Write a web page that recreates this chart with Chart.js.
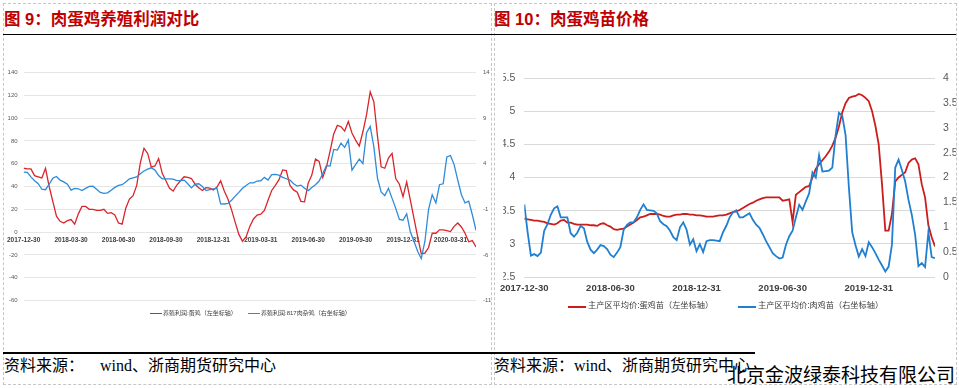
<!DOCTYPE html>
<html>
<head>
<meta charset="utf-8">
<script src="https://cdn.jsdelivr.net/npm/chart.js@4.4.1/dist/chart.umd.min.js"></script>
<style>
    body { margin: 0; width: 959px; height: 388px; background: #fff; position: relative; overflow: hidden;
           font-family: "Liberation Sans", "Noto Sans CJK SC", sans-serif; }
    .box { position: absolute; border: 1px dashed #c6c6c6; }
    .title { position: absolute; top: 11px; font-size: 16.5px; line-height: 1; font-weight: bold; color: #c00000; white-space: nowrap; }
    .rule { position: absolute; background: #000; }
    .src { position: absolute; top: 358px; font-size: 16px; line-height: 1; white-space: pre; color: #000;
           font-family: "Liberation Serif", "Noto Sans CJK SC", serif; }
    .lg { position: absolute; white-space: nowrap; color: #404040; line-height: 1; }
    .mark { position: absolute; }
    canvas { position: absolute; }
    #wm { position: absolute; left: 727px; top: 364px; font-size: 19px; line-height: 1; color: #000;
          font-family: "Noto Sans CJK SC", sans-serif; white-space: nowrap; }
</style>
</head>
<body>
<div class="box" style="left:3px;top:3px;width:487px;height:380px"></div>
<div class="box" style="left:494px;top:3px;width:461px;height:380px"></div>

<div class="title" style="left:4px">图 9：肉蛋鸡养殖利润对比</div>
<div class="title" style="left:494px">图 10：肉蛋鸡苗价格</div>
<div class="rule" style="left:3px;top:33.5px;width:953px;height:1.5px"></div>

<canvas id="profitChart" width="488" height="290" style="left:3px;top:40px"></canvas>
<canvas id="chickChart" width="462" height="270" style="left:494px;top:40px"></canvas>

<div class="mark" style="left:150px;top:312.5px;width:12px;height:1.3px;background:#d8262c"></div>
<div class="lg" style="left:163px;top:310px;font-size:6px">养殖利润:蛋鸡（左坐标轴）</div>
<div class="mark" style="left:248px;top:312.5px;width:12px;height:1.3px;background:#2d8bd9"></div>
<div class="lg" style="left:261px;top:310px;font-size:6px">养殖利润:817肉杂鸡（右坐标轴）</div>

<div class="mark" style="left:568px;top:305.5px;width:18px;height:2px;background:#cc1c1c"></div>
<div class="lg" style="left:588px;top:302px;font-size:8.2px">主产区平均价:蛋鸡苗（左坐标轴）</div>
<div class="mark" style="left:738px;top:305.5px;width:18px;height:2px;background:#1f7fd0"></div>
<div class="lg" style="left:758px;top:302px;font-size:8.2px">主产区平均价:肉鸡苗（右坐标轴）</div>

<div class="rule" style="left:3px;top:352px;width:752px;height:1.5px"></div>
<div class="src" style="left:4px">资料来源：    wind、浙商期货研究中心</div>
<div class="src" style="left:494px">资料来源：wind、浙商期货研究中心</div>
<div id="wm">北京金波绿泰科技有限公司</div>

<script>
// weekly values, 2017-12-30 onward
const eggProfit = [
    56, 55.5, 55.5, 49.5, 48.5, 47.5, 56, 40, 27, 14,
    9.5, 8, 10, 11, 7, 16, 22.5, 22.5, 20, 20,
    19, 19, 20, 16.4, 17, 15, 8, 7, 21, 29,
    32, 41, 61, 73.5, 69, 57, 58, 64.5, 51.5, 45,
    38.5, 36, 41.3, 45, 48.5, 48, 47, 42, 39, 36.5,
    39, 38.6, 37, 39.5, 45, 36, 29, 19.5, 8.5, -2,
    -8, -4, 5, 11.5, 15, 15.7, 19, 28, 36.5, 41,
    46, 54.5, 54, 41, 37, 35, 27, 26.6, 43, 50,
    64, 62, 48, 57, 71, 86, 93.6, 92.4, 88.6, 97,
    87, 80.7, 75.5, 88, 103, 123, 114.3, 84, 57.3, 56,
    65, 69, 47, 42, 31, 44, 28, 12, -4, -19,
    -18.5, -13.5, -1, -1, 2, 2, 1.3, 0.5, 5, 8,
    4.5, -1, -8.5, -7.5, -13
];
const broilerProfit = [
    3.08, 3.05, 2.56, 2.13, 1.8, 1.2, 1.15, 1.75, 2.4, 2.6,
    2.2, 2.0, 1.75, 1.1, 1.3, 1.25, 1.05, 1.3, 1.5, 1.54,
    1.2, 0.85, 0.74, 0.8, 1.1, 1.4, 1.63, 1.7, 2.0, 2.34,
    2.45, 2.55, 2.9, 3.2, 3.4, 3.55, 3.3, 2.7, 2.34, 2.34,
    2.34, 2.3, 2.15, 2.15, 2.2, 1.8, 1.35, 1.75, 1.8, 1.5,
    1.05, 1.15, 1.25, 1.29, -0.4, -0.42, -0.35, 0.0, 0.45, 0.85,
    1.3, 1.6, 1.9, 1.9, 2.1, 2.13, 2.5, 2.2, 2.8, 2.83,
    2.75, 2.5, 2.35, 2.2, 1.8, 1.55, 1.65, 1.3, 1.05, 1.4,
    1.7, 2.1, 2.9, 3.8, 3.74, 5.56, 5.49, 6.25, 5.79, 6.6,
    3.3, 3.9, 4.5, 4.0, 7.39, 8.1, 5.85, 2.4, 0.91, 0.5,
    1.3, 0.2, -0.9, -2.1, -2.2, -1.5, -3.46, -4.5, -5.6, -6.4,
    -4.5, -1, 0.6, -0.3, 1.7, 1.8, 4.75, 4.9, 3.9, 2.2,
    0.6, -0.3, -0.1, -1.6, -3.3
];
const profitTickIdx = [0, 13, 26, 39, 52, 65, 78, 91, 104, 117];
const profitTickLabels = ['2017-12-30', '2018-03-30', '2018-06-30', '2018-09-30', '2018-12-31',
                          '2019-03-31', '2019-06-30', '2019-09-30', '2019-12-31', '2020-03-31'];

const eggChick = [
    3.38, 3.37, 3.36, 3.35, 3.35, 3.34, 3.33, 3.31, 3.3, 3.29,
    3.31, 3.35, 3.36, 3.32, 3.32, 3.3, 3.29, 3.29, 3.29, 3.29,
    3.28, 3.28, 3.27, 3.3, 3.31, 3.28, 3.26, 3.22, 3.21, 3.22,
    3.23, 3.26, 3.29, 3.32, 3.36, 3.4, 3.41, 3.43, 3.45, 3.45,
    3.45, 3.44, 3.42, 3.41, 3.41, 3.43, 3.44, 3.44, 3.45, 3.45,
    3.44, 3.44, 3.43, 3.43, 3.42, 3.41, 3.41, 3.41, 3.42, 3.43,
    3.43, 3.44, 3.46, 3.48, 3.49, 3.51, 3.54, 3.57, 3.6, 3.62,
    3.65, 3.67, 3.69, 3.7, 3.7, 3.7, 3.7, 3.7, 3.65, 3.66,
    3.67, 3.33, 3.74, 3.78, 3.82, 3.86, 3.87, 4.0, 4.13, 4.2,
    4.26, 4.32, 4.39, 4.48, 4.6, 4.77, 4.98, 5.12, 5.2, 5.22,
    5.23, 5.26, 5.24, 5.2, 5.15, 5.0, 4.78, 4.5, 3.9, 3.2,
    3.2, 3.45, 3.94, 4.0, 4.04, 4.08, 4.22, 4.27, 4.29, 4.2,
    3.9, 3.7, 3.28, 3.1, 2.96
];
const broilerChick = [
    1.46, 0.9, 0.43, 0.46, 0.42, 0.49, 0.93, 1.06, 1.25, 1.38,
    1.42, 1.2, 1.2, 1.2, 0.88, 0.81, 0.89, 1.03, 0.98, 0.71,
    0.55, 0.48, 0.55, 0.64, 0.62, 0.56, 0.45, 0.4, 0.49, 0.6,
    0.95, 1.05, 1.1, 1.1, 1.2, 1.35, 1.46, 1.35, 1.34, 1.33,
    1.28, 1.12, 1.06, 1.02, 0.93, 0.8, 0.74, 1.0, 1.1, 0.95,
    0.65, 0.76, 0.52, 0.66, 0.5, 0.72, 0.74, 0.74, 0.73, 0.72,
    0.9, 1.03, 1.2, 1.3, 1.34, 1.2, 1.2, 1.24, 1.28, 1.15,
    1.05, 0.99, 0.86, 0.72, 0.6, 0.48, 0.42, 0.37, 0.39, 0.65,
    0.82, 0.93, 1.2, 1.45, 1.35, 1.52, 1.68, 2.1, 2.0, 2.45,
    2.12, 2.13, 2.14, 2.2, 2.85, 3.3, 3.24, 2.85, 1.8, 0.9,
    0.64, 0.41, 0.56, 0.42, 0.7, 0.6, 0.48, 0.35, 0.23, 0.11,
    0.21, 0.65, 2.2, 2.36, 2.15, 1.92, 1.55, 1.25, 0.85, 0.22,
    0.28, 0.2, 0.9, 0.4, 0.38
];
const chickTickIdx = [0, 26, 52, 78, 104];
const chickTickLabels = ['2017-12-30', '2018-06-30', '2018-12-31', '2019-06-30', '2019-12-31'];

const narrow = '"Liberation Sans Narrow", "Liberation Sans", sans-serif';

function lineSet(label, data, axis, color, width, order) {
    return {
        label: label,
        data: data,
        yAxisID: axis,
        borderColor: color,
        backgroundColor: color,
        borderWidth: width,
        pointRadius: 0,
        tension: 0,
        order: order
    };
}

function dateAxis(tickIdx, tickLabels, position, fontSize, padding) {
    return {
        type: 'linear',
        min: 0,
        max: 124,
        position: position,
        grid: { display: false, drawTicks: false },
        border: { display: false },
        afterBuildTicks: scale => {
            scale.ticks = tickIdx.map(v => ({ value: v }));
        },
        ticks: {
            autoSkip: false,
            maxRotation: 0,
            padding: padding,
            color: '#404040',
            font: { family: narrow, size: fontSize, weight: 'bold' },
            callback: (value, index) => tickLabels[index]
        }
    };
}

function valueAxis(position, min, max, step, width, padding, fontSize, gridColor) {
    return {
        position: position,
        min: min,
        max: max,
        grid: gridColor ? { color: gridColor, drawTicks: false } : { display: false, drawTicks: false },
        border: { display: false },
        ticks: {
            stepSize: step,
            padding: padding,
            color: '#595959',
            font: { family: narrow, size: fontSize },
            callback: v => String(v)
        },
        afterFit: scale => {
            scale.width = width;
        }
    };
}

function initProfitChart() {
    const canvas = document.getElementById('profitChart');
    new Chart(canvas, {
        type: 'line',
        data: {
            labels: eggProfit.map((v, i) => i),
            datasets: [
                lineSet('养殖利润:蛋鸡（左坐标轴）', eggProfit, 'y', '#d8262c', 1.3, 1),
                lineSet('养殖利润:817肉杂鸡（右坐标轴）', broilerProfit, 'y1', '#2d8bd9', 1.3, 0)
            ]
        },
        options: {
            responsive: false,
            animation: false,
            layout: { padding: { top: 32.5, bottom: 29.5, left: 0, right: 0 } },
            plugins: { legend: { display: false }, tooltip: { enabled: false } },
            scales: {
                x: dateAxis(profitTickIdx, profitTickLabels, { y: 0 }, 6.5, 4),
                y: valueAxis('left', -60, 140, 20, 17, 6, 6, '#e6e6e6'),
                y1: valueAxis('right', -11, 14, 5, 15, 7, 6, null)
            }
        }
    });
}

function initChickChart() {
    const canvas = document.getElementById('chickChart');
    const xAxis = dateAxis(chickTickIdx, chickTickLabels, 'bottom', 9.5, 6);
    xAxis.afterFit = scale => {
        scale.height = 15;
    };
    new Chart(canvas, {
        type: 'line',
        data: {
            labels: eggChick.map((v, i) => i),
            datasets: [
                lineSet('主产区平均价:蛋鸡苗（左坐标轴）', eggChick, 'y', '#cc1c1c', 1.8, 1),
                lineSet('主产区平均价:肉鸡苗（右坐标轴）', broilerChick, 'y1', '#1f7fd0', 1.8, 0)
            ]
        },
        options: {
            responsive: false,
            animation: false,
            layout: { padding: { top: 38, bottom: 18, left: 0, right: 0 } },
            plugins: { legend: { display: false }, tooltip: { enabled: false } },
            scales: {
                x: xAxis,
                y: valueAxis('left', 2.5, 5.5, 0.5, 21, 9, 10.5, '#d9d9d9'),
                y1: valueAxis('right', 0, 4, 0.5, 21, 8, 10.5, null)
            }
        }
    });
}

window.addEventListener('load', () => {
    initProfitChart();
    initChickChart();
});
</script>
</body>
</html>
